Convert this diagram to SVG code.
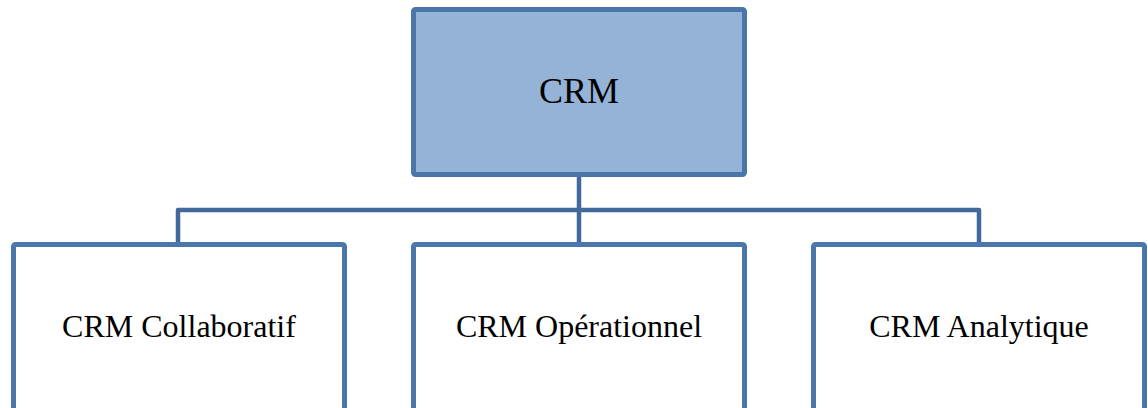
<svg xmlns="http://www.w3.org/2000/svg" width="1148" height="408" viewBox="0 0 1148 408">
  <style>
    .box { stroke: #4A76AA; stroke-width: 5; stroke-linejoin: round; }
    .root { fill: #95B3D7; }
    .leaf { fill: #FFFFFF; }
    .link { fill: none; stroke: #41699C; stroke-width: 4.5; stroke-linejoin: round; }
    .label { font-family: "Liberation Serif", "Times New Roman", serif; fill: #000000; text-anchor: middle; }
  </style>
  <rect width="1148" height="408" fill="#FFFFFF"/>
  <g id="connectors">
    <polyline class="link" points="178,244 178,210 979,210 979,244"/>
    <line class="link" x1="579" y1="176" x2="579" y2="244"/>
  </g>
  <g id="node-crm">
    <rect class="box root" x="413.5" y="9.5" width="331" height="165" rx="2"/>
    <text class="label" x="579" y="103" font-size="36">CRM</text>
  </g>
  <g id="node-collaboratif">
    <rect class="box leaf" x="13.5" y="244.5" width="331" height="200" rx="2"/>
    <text class="label" x="179" y="337" font-size="32">CRM Collaboratif</text>
  </g>
  <g id="node-operationnel">
    <rect class="box leaf" x="413.5" y="244.5" width="331" height="200" rx="2"/>
    <text class="label" x="579" y="337" font-size="32">CRM Opérationnel</text>
  </g>
  <g id="node-analytique">
    <rect class="box leaf" x="813.5" y="244.5" width="331" height="200" rx="2"/>
    <text class="label" x="979" y="337" font-size="32">CRM Analytique</text>
  </g>
</svg>
